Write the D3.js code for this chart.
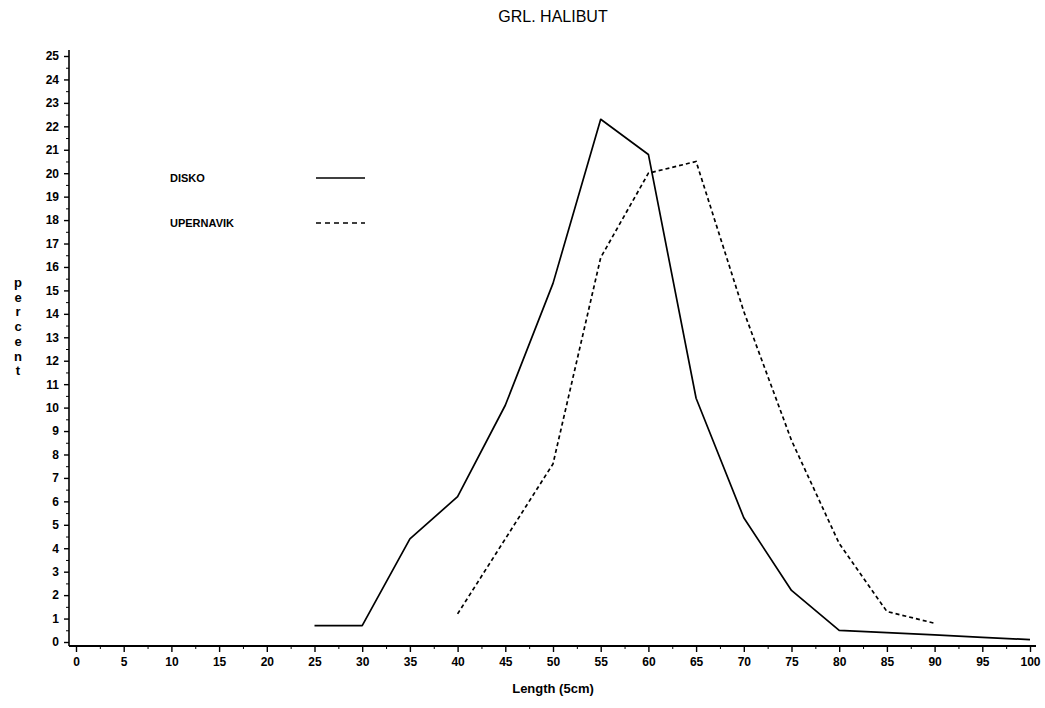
<!DOCTYPE html>
<html>
<head>
<meta charset="utf-8">
<script src="https://cdn.jsdelivr.net/npm/d3@7"></script>
<style>
	body { margin: 0; background: #fff; }
	svg { display: block; font-family: "Liberation Sans", Arial, sans-serif; }
	.tick text { font-weight: bold; font-size: 12px; fill: #000; }
	.domain, .tick line { stroke: #000; }
</style>
</head>
<body>
<div id="wrapper"></div>
<script>
// data
const lengths = [25, 30, 35, 40, 45, 50, 55, 60, 65, 70, 75, 80, 85, 90, 95, 100];
const disko = [0.7, 0.7, 4.4, 6.2, 10.1, 15.3, 22.3, 20.8, 10.4, 5.3, 2.2, 0.5, 0.4, 0.3, 0.2, 0.1];
const upernavikLengths = [40, 45, 50, 55, 60, 65, 70, 75, 80, 85, 90];
const upernavik = [1.2, 4.4, 7.6, 16.4, 20.0, 20.5, 14.1, 8.6, 4.2, 1.3, 0.8];

const xTicks = d3.range(0, 101, 5);
const yTicks = d3.range(0, 26, 1);
const seriesNames = ["DISKO", "UPERNAVIK"];

const drawChart = () => {
	const dimensions = {
		width: 1045,
		height: 708,
	};

	const svg = d3
		.select("#wrapper")
		.append("svg")
		.attr("width", dimensions.width)
		.attr("height", dimensions.height);

	const xScale = d3.scaleLinear().domain([0, 100]).range([76, 1030]);
	const yScale = d3.scaleLinear().domain([0, 25]).range([642, 56]);

	const axisX = 69;
	const axisY = 646;

	// title
	svg
		.append("text")
		.attr("x", 553)
		.attr("y", 22)
		.attr("text-anchor", "middle")
		.style("font-size", "16px")
		.text("GRL. HALIBUT");

	// y axis
	const yAxisGenerator = d3
		.axisLeft(yScale)
		.tickValues(yTicks)
		.tickSize(5)
		.tickPadding(5)
		.tickFormat(d3.format("d"));
	const yAxis = svg
		.append("g")
		.attr("transform", `translate(${axisX}, 0)`)
		.call(yAxisGenerator);
	yAxis.select(".domain").attr("d", `M0,${axisY}V50`).attr("stroke-width", 1.6);
	yAxis.selectAll(".tick line").attr("stroke-width", 1.4);

	// y minor ticks
	svg
		.append("g")
		.attr("transform", `translate(${axisX}, 0)`)
		.call(
			d3
				.axisLeft(yScale)
				.tickValues(d3.range(0.5, 25, 1))
				.tickSize(3)
				.tickFormat("")
		)
		.call((g) => g.select(".domain").remove());

	// x axis
	const xAxisGenerator = d3
		.axisBottom(xScale)
		.tickValues(xTicks)
		.tickSize(6)
		.tickPadding(5)
		.tickFormat(d3.format("d"));
	const xAxis = svg
		.append("g")
		.attr("transform", `translate(0, ${axisY})`)
		.call(xAxisGenerator);
	xAxis.select(".domain").attr("d", `M${axisX},0H1036`).attr("stroke-width", 2);
	xAxis.selectAll(".tick line").attr("stroke-width", 1.4);

	svg
		.append("g")
		.attr("transform", `translate(0, ${axisY})`)
		.call(
			d3
				.axisBottom(xScale)
				.tickValues(d3.range(2.5, 100, 5))
				.tickSize(3)
				.tickFormat("")
		)
		.call((g) => g.select(".domain").remove());

	// axis labels
	svg
		.append("text")
		.attr("x", 553)
		.attr("y", 693)
		.attr("text-anchor", "middle")
		.style("font-size", "13px")
		.style("font-weight", "bold")
		.text("Length (5cm)");

	svg
		.append("g")
		.selectAll("text")
		.data("percent".split(""))
		.join("text")
		.attr("x", 18)
		.attr("y", (d, i) => 287 + i * 14.7)
		.attr("text-anchor", "middle")
		.style("font-size", "13px")
		.style("font-weight", "bold")
		.text((d) => d);

	// lines
	const lineGenerator = d3
		.line()
		.x((d) => xScale(d[0]))
		.y((d) => yScale(d[1]));

	svg
		.append("path")
		.attr("d", lineGenerator(d3.zip(lengths, disko)))
		.attr("fill", "none")
		.attr("stroke", "#000")
		.attr("stroke-width", 1.7)
		.attr("stroke-linejoin", "round");

	svg
		.append("path")
		.attr("d", lineGenerator(d3.zip(upernavikLengths, upernavik)))
		.attr("fill", "none")
		.attr("stroke", "#000")
		.attr("stroke-width", 1.7)
		.attr("stroke-dasharray", "4,3");

	// legend
	const legend = svg
		.append("g")
		.selectAll("g")
		.data(seriesNames)
		.join("g")
		.attr("transform", (d, i) => `translate(170, ${178 + i * 45})`);

	legend
		.append("text")
		.attr("y", 4)
		.style("font-size", "11px")
		.style("font-weight", "bold")
		.text((d) => d);

	legend
		.append("line")
		.attr("x1", 146)
		.attr("x2", 195)
		.attr("stroke", "#000")
		.attr("stroke-width", 1.7)
		.attr("stroke-dasharray", (d, i) => (i === 0 ? null : "5,4"));
};

drawChart();
</script>
</body>
</html>
